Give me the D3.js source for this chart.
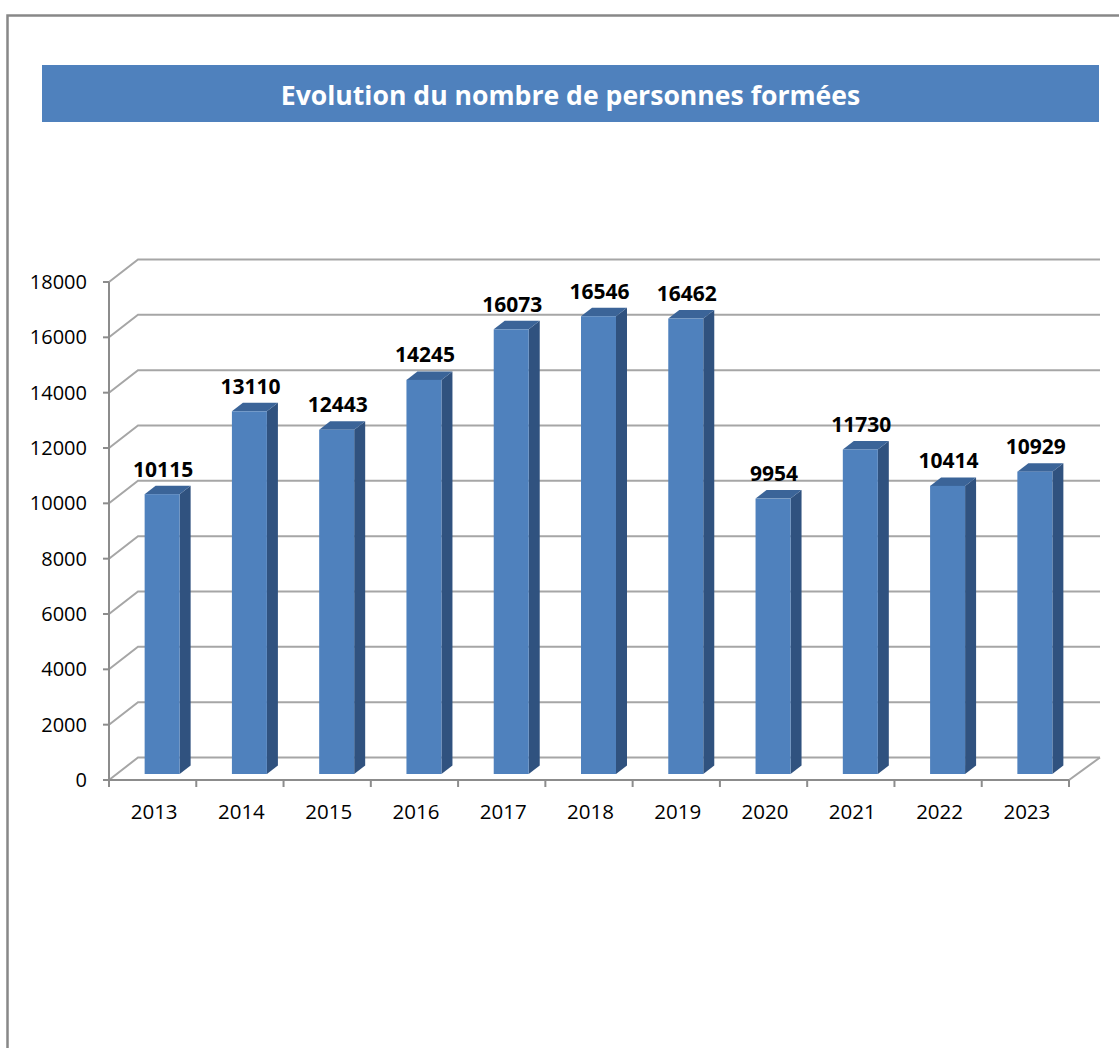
<!DOCTYPE html>
<html>
<head>
<meta charset="utf-8">
<script src="https://cdn.jsdelivr.net/npm/d3@7"></script>
<style>
  html, body { margin: 0; padding: 0; background: #fff; }
  svg { display: block; font-family: "Open Sans", "Noto Sans", sans-serif; }
</style>
</head>
<body>
<div id="chart"></div>
<script>
// --- Data ---
const years = ["2013", "2014", "2015", "2016", "2017", "2018", "2019", "2020", "2021", "2022", "2023"];
const trained = [10115, 13110, 12443, 14245, 16073, 16546, 16462, 9954, 11730, 10414, 10929];
const yTicks = [0, 2000, 4000, 6000, 8000, 10000, 12000, 14000, 16000, 18000];
const titleText = "Evolution du nombre de personnes formées";

// --- Dimensions ---
const width = 1119;
const height = 1048;
const plot = { left: 109, right: 1069, top: 282, bottom: 780 };
const depth = { dx: 29, dy: -22.5 };       // back wall offset
const barFront = { dx: 9.5, dy: -6 };      // bar front plane offset
const barDepth = { dx: 11, dy: -8.5 };     // bar thickness

const svg = d3.select("#chart").append("svg")
  .attr("width", width)
  .attr("height", height);

// Outer frame
svg.append("path")
  .attr("d", `M7.5,${height} V15.5 H${width}`)
  .attr("fill", "none")
  .attr("stroke", "#888")
  .attr("stroke-width", 2.5);

// Title banner
svg.append("rect")
  .attr("x", 42).attr("y", 65)
  .attr("width", 1057).attr("height", 57)
  .attr("fill", "#4F81BD");

svg.append("text")
  .attr("x", 570.5).attr("y", 104.5)
  .attr("text-anchor", "middle")
  .attr("font-size", "26.6px")
  .attr("font-weight", 700)
  .attr("fill", "#fff")
  .text(titleText);

// --- Scales ---
const x = d3.scaleBand().domain(years).range([plot.left, plot.right]).paddingInner(0).paddingOuter(0);
const y = d3.scaleLinear().domain([0, 18000]).range([plot.bottom, plot.top]);

const grid = svg.append("g")
  .attr("fill", "none")
  .attr("stroke", "#A6A6A6")
  .attr("stroke-width", 2);

// Gridlines: side wall diagonal + back wall horizontal
yTicks.forEach(t => {
  grid.append("path")
    .attr("d", `M${plot.left},${y(t)} L${plot.left + depth.dx},${y(t) + depth.dy} H1100`);
});

// Floor right edge
grid.append("path")
  .attr("d", `M${plot.left},${plot.bottom} H${plot.right} L${plot.right + depth.dx + 2},${plot.bottom + depth.dy}`);

// Axes
const axisG = svg.append("g")
  .attr("fill", "none")
  .attr("stroke", "#8C8C8C")
  .attr("stroke-width", 2);

axisG.append("path").attr("d", `M${plot.left},${plot.top} V${plot.bottom} H${plot.right}`);

yTicks.forEach(t => {
  axisG.append("path").attr("d", `M${plot.left - 6},${y(t)} H${plot.left}`);
});
[...years.map(d => x(d)), plot.right].forEach(px => {
  axisG.append("path").attr("d", `M${px},${plot.bottom} V${plot.bottom + 7}`);
});

// Y tick labels
svg.append("g")
  .selectAll("text")
  .data(yTicks)
  .join("text")
  .attr("x", 87)
  .attr("y", d => y(d) + 7)
  .attr("text-anchor", "end")
  .attr("font-size", "20px")
  .attr("fill", "#000")
  .text(d => d);

// X tick labels
svg.append("g")
  .selectAll("text")
  .data(years)
  .join("text")
  .attr("x", d => x(d) + x.bandwidth() / 2 + 1.5)
  .attr("y", 819)
  .attr("text-anchor", "middle")
  .attr("font-size", "20.5px")
  .attr("fill", "#000")
  .text(d => d);

// --- Bars (3D look) ---
const barW = 35;
const bars = svg.append("g")
  .selectAll("g")
  .data(years.map((yr, i) => ({ year: yr, value: trained[i] })))
  .join("g");

function frontX(d) {
  return x(d.year) + x.bandwidth() / 2 + barFront.dx - barW / 2;
}

// side face
bars.append("path")
  .attr("fill", "#30527F")
  .attr("d", d => {
    const x1 = frontX(d) + barW;
    const yTop = y(d.value) + barFront.dy;
    const yBot = y(0) + barFront.dy;
    return `M${x1},${yBot} L${x1},${yTop} L${x1 + barDepth.dx},${yTop + barDepth.dy} L${x1 + barDepth.dx},${yBot + barDepth.dy} Z`;
  });

// top face
bars.append("path")
  .attr("fill", "#3B6498")
  .attr("d", d => {
    const x0 = frontX(d);
    const yTop = y(d.value) + barFront.dy;
    return `M${x0},${yTop} L${x0 + barDepth.dx},${yTop + barDepth.dy} L${x0 + barW + barDepth.dx},${yTop + barDepth.dy} L${x0 + barW},${yTop} Z`;
  });

// front face
bars.append("rect")
  .attr("fill", "#4F81BD")
  .attr("x", d => frontX(d))
  .attr("y", d => y(d.value) + barFront.dy)
  .attr("width", barW)
  .attr("height", d => y(0) - y(d.value));

// Value labels
bars.append("text")
  .attr("x", d => frontX(d) + barW / 2 + 1)
  .attr("y", d => y(d.value) + barFront.dy + barDepth.dy - 9)
  .attr("text-anchor", "middle")
  .attr("font-size", "21px")
  .attr("font-weight", 700)
  .attr("fill", "#000")
  .text(d => d.value);
</script>
</body>
</html>
